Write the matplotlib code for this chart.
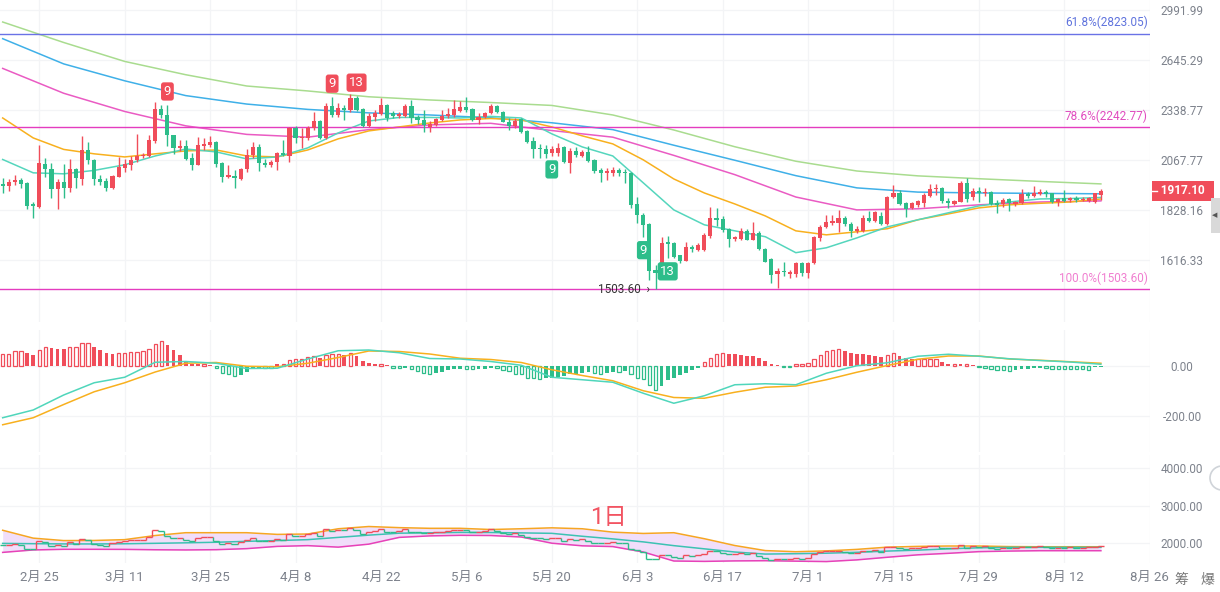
import numpy as np
import pandas as pd
import matplotlib
matplotlib.use("Agg")
import matplotlib.pyplot as plt
import matplotlib.dates as mdates
from matplotlib.collections import LineCollection
from matplotlib.patches import Rectangle, Ellipse
from matplotlib.transforms import blended_transform_factory

plt.rcParams['font.family'] = ['Roboto', 'Noto Sans CJK SC', 'DejaVu Sans']

# daily candles 2023-02-19 .. 2023-08-18
dates = pd.date_range('2023-02-19', '2023-08-18', freq='D')

open_ = [1949, 1941, 1959, 1968, 1954, 1855, 1842, 2048, 2022, 1925,
         1959, 1930, 2022, 1973, 2119, 2068, 1973, 1964, 1930, 1983,
         2027, 2043, 2068, 2088, 2088, 2167, 2345, 2310, 2199, 2130,
         2140, 2078, 2043, 2140, 2146, 2162, 2052, 1983, 1988, 1973,
         2022, 2093, 2135, 2052, 2043, 2058, 2104, 2088, 2237, 2183,
         2183, 2237, 2276, 2183, 2362, 2310, 2350, 2339, 2409, 2345,
         2248, 2299, 2316, 2368, 2322, 2305, 2305, 2362, 2299, 2282,
         2243, 2254, 2282, 2305, 2310, 2333, 2356, 2345, 2282, 2299,
         2322, 2362, 2327, 2271, 2248, 2288, 2221, 2167, 2130, 2124,
         2104, 2104, 2135, 2052, 2114, 2088, 2109, 2068, 2017, 2003,
         2003, 2017, 2008, 2003, 1855, 1806, 1766, 1577, 1565, 1690,
         1686, 1636, 1612, 1669, 1657, 1657, 1715, 1793, 1788, 1745,
         1702, 1702, 1736, 1698, 1728, 1661, 1620, 1562, 1573, 1562,
         1562, 1604, 1565, 1604, 1706, 1753, 1771, 1771, 1793, 1766,
         1736, 1736, 1793, 1780, 1802, 1766, 1888, 1906, 1860, 1837,
         1851, 1860, 1892, 1925, 1930, 1869, 1855, 1864, 1954, 1888,
         1916, 1906, 1911, 1860, 1855, 1878, 1855, 1860, 1901, 1892,
         1901, 1911, 1906, 1864, 1883, 1874, 1883, 1874, 1869, 1864,
         1897]
high = [1978, 1973, 1993, 1978, 1956, 1864, 2146, 2078, 2052, 1973,
        2048, 2073, 2027, 2194, 2162, 2070, 1993, 1978, 1990, 2083,
        2073, 2088, 2205, 2104, 2199, 2385, 2368, 2368, 2200, 2172,
        2172, 2104, 2188, 2183, 2194, 2167, 2055, 2043, 2018, 2027,
        2124, 2162, 2151, 2073, 2068, 2109, 2172, 2240, 2248, 2237,
        2248, 2327, 2282, 2379, 2414, 2379, 2368, 2432, 2420, 2350,
        2322, 2339, 2409, 2374, 2333, 2327, 2374, 2397, 2310, 2339,
        2276, 2293, 2339, 2350, 2397, 2391, 2414, 2350, 2322, 2327,
        2374, 2368, 2333, 2293, 2293, 2293, 2226, 2188, 2151, 2146,
        2140, 2156, 2140, 2130, 2135, 2119, 2140, 2070, 2027, 2027,
        2032, 2027, 2022, 2008, 1888, 1815, 1768, 1596, 1711, 1715,
        1690, 1637, 1690, 1677, 1686, 1728, 1842, 1837, 1802, 1749,
        1715, 1749, 1745, 1775, 1736, 1665, 1624, 1585, 1608, 1577,
        1608, 1608, 1608, 1715, 1762, 1806, 1806, 1828, 1802, 1775,
        1757, 1806, 1824, 1824, 1819, 1890, 1944, 1920, 1864, 1864,
        1874, 1906, 1949, 1949, 1935, 1883, 1874, 1964, 1978, 1930,
        1935, 1930, 1913, 1874, 1883, 1883, 1869, 1925, 1911, 1940,
        1925, 1920, 1908, 1883, 1920, 1888, 1892, 1888, 1888, 1908,
        1925]
low = [1906, 1916, 1944, 1930, 1833, 1792, 1837, 1983, 1883, 1833,
       1883, 1911, 1930, 1944, 2048, 1944, 1944, 1916, 1925, 1983,
       2008, 2018, 2058, 2078, 2085, 2156, 2293, 2140, 2099, 2114,
       2068, 2018, 2040, 2119, 2135, 2032, 1959, 1978, 1930, 1968,
       2008, 2078, 2012, 2032, 2032, 2018, 2088, 2058, 2156, 2130,
       2172, 2226, 2178, 2178, 2299, 2299, 2282, 2327, 2333, 2243,
       2245, 2276, 2310, 2276, 2293, 2293, 2299, 2265, 2259, 2215,
       2215, 2248, 2276, 2293, 2299, 2327, 2327, 2276, 2259, 2293,
       2316, 2322, 2268, 2226, 2237, 2210, 2156, 2078, 2078, 2078,
       2088, 2088, 2052, 2003, 2083, 2083, 2058, 2003, 1959, 1968,
       1988, 1988, 1954, 1837, 1771, 1711, 1539, 1503.6, 1563, 1624,
       1624, 1604, 1610, 1648, 1652, 1652, 1706, 1757, 1732, 1669,
       1694, 1698, 1696, 1696, 1657, 1606, 1527, 1508, 1554, 1546,
       1550, 1554, 1546, 1600, 1694, 1749, 1762, 1732, 1757, 1711,
       1728, 1732, 1775, 1775, 1762, 1762, 1883, 1851, 1797, 1833,
       1842, 1842, 1888, 1897, 1860, 1837, 1851, 1862, 1864, 1874,
       1864, 1892, 1851, 1815, 1842, 1824, 1846, 1855, 1883, 1888,
       1897, 1888, 1860, 1846, 1864, 1864, 1864, 1869, 1864, 1860,
       1874]
close = [1940, 1960, 1968, 1949, 1846, 1846, 2052, 2022, 1925, 1959,
         1930, 2022, 1978, 2119, 2068, 1973, 1959, 1930, 1988, 2032,
         2048, 2068, 2088, 2093, 2172, 2345, 2310, 2199, 2130, 2140,
         2073, 2043, 2146, 2151, 2162, 2048, 1983, 1993, 1978, 2022,
         2093, 2135, 2052, 2043, 2058, 2104, 2093, 2237, 2183, 2188,
         2237, 2276, 2183, 2362, 2310, 2350, 2339, 2409, 2339, 2248,
         2305, 2322, 2368, 2293, 2305, 2316, 2362, 2293, 2282, 2254,
         2259, 2288, 2305, 2316, 2345, 2356, 2339, 2282, 2299, 2322,
         2362, 2327, 2271, 2248, 2276, 2216, 2162, 2124, 2124, 2099,
         2124, 2130, 2058, 2114, 2093, 2109, 2063, 2012, 2003, 2012,
         2017, 2003, 2003, 1851, 1806, 1762, 1573, 1565, 1686, 1681,
         1628, 1612, 1669, 1661, 1677, 1719, 1793, 1784, 1740, 1702,
         1711, 1736, 1698, 1728, 1661, 1608, 1558, 1573, 1569, 1569,
         1604, 1565, 1604, 1711, 1753, 1775, 1780, 1793, 1766, 1736,
         1745, 1793, 1780, 1819, 1766, 1888, 1906, 1855, 1833, 1860,
         1869, 1897, 1925, 1930, 1869, 1860, 1869, 1954, 1878, 1916,
         1906, 1911, 1855, 1851, 1874, 1860, 1864, 1901, 1892, 1906,
         1911, 1901, 1864, 1878, 1869, 1883, 1874, 1878, 1883, 1906,
         1917.1]

# moving averages, read every 5 / 10 days
ma_fast = [2070, 2003, 1998, 2015, 2043, 2088, 2124, 2109, 2073, 2083, 2130, 2210, 2276,
           2296, 2296, 2293, 2302, 2293, 2205, 2135, 2088, 1954, 1828, 1762, 1736, 1711,
           1645, 1665, 1706, 1753, 1784, 1815, 1846, 1864, 1878, 1880, 1885]
ma_mid = [2293, 2183, 2122, 2099, 2083, 2099, 2114, 2119, 2088, 2083, 2119, 2178, 2221,
          2243, 2265, 2282, 2290, 2282, 2243, 2194, 2151, 2068, 1973, 1906, 1855, 1801,
          1736, 1719, 1732, 1745, 1784, 1810, 1837, 1851, 1858, 1864, 1878]
ma_50 = [2591, 2437, 2330, 2249, 2202, 2187, 2228, 2254, 2263, 2223, 2187, 2091, 1994,
         1887, 1828, 1833, 1851, 1864, 1869]
ma_100 = [2788, 2620, 2513, 2423, 2373, 2342, 2322, 2310, 2294, 2266, 2228, 2144, 2066,
          1989, 1930, 1910, 1906, 1904, 1902]
ma_200 = [2905, 2762, 2636, 2551, 2481, 2451, 2416, 2397, 2382, 2365, 2310, 2226, 2136,
          2061, 2012, 1988, 1974, 1961, 1949]

fib_levels = [2823.05, 2242.77, 1503.60]
fib_labels = ['61.8%(2823.05)', '78.6%(2242.77)', '100.0%(1503.60)']

# TD sequential marks: (candle index, text, side)
td_marks = [(27, '9', 'sell'), (54, '9', 'sell'), (58, '13', 'sell'),
            (90, '9', 'buy'), (105, '9', 'buy'), (109, '13', 'buy')]

macd_hist = [47, 49, 59, 61, 51, 43, 65, 77, 71, 69, 67, 75, 75, 91, 91, 75, 63, 51, 47, 52,
             53, 55, 57, 60, 67, 89, 99, 83, 63, 43, 21, 9, 8, 8, 5, -8, -27, -33, -39, -36,
             -24, -9, -7, -8, -8, 7, 7, 25, 29, 29, 36, 41, 32, 45, 48, 48, 45, 51, 39, 19,
             11, 7, 7, 3, -7, -9, -8, -11, -21, -28, -31, -27, -24, -17, -12, -11, -12, -13, -12, -11,
             -8, -8, -17, -21, -31, -34, -47, -50, -53, -50, -47, -43, -39, -34, -31,
             -30, -26, -30, -31, -27, -23, -23, -21, -34, -47, -53, -77, -97, -79, -57,
             -47, -37, -27, -17, -7, 14, 33, 49, 51, 49, 46, 43, 41, 38, 30,
             19, 6, 3, -5, -5, 6, 9, 11, 27, 43, 59, 63, 67, 59, 50,
             47, 46, 43, 41, 37, 43, 50, 41, 30, 27, 27, 27, 27, 27, 14,
             7, 7, 6, 6, 5, -6, -7, -13, -17, -17, -21, -17, -14, -13, -10,
             -9, -10, -13, -13, -14, -14, -14, -14, -15, -6, -5]
macd_dif = [-208, -177, -117, -68, -46, 14, 17, 10, -11, -10, 27, 60, 63, 52, 29, 27, 17, 2,
            -46, -56, -66, -110, -150, -120, -76, -72, -76, -30, 0, 12, 38, 46, 38, 28, 21, 15, 6]
macd_dea = [-236, -208, -155, -104, -68, -25, 10, 13, -2, -4, 10, 33, 59, 57, 47, 30, 25, 13,
            -16, -39, -60, -100, -127, -130, -106, -86, -81, -56, -26, 1, 26, 39, 39, 27, 22, 16, 10]

# lower pane band (every 5 days)
band_up = [2340, 2130, 2065, 2068, 2090, 2200, 2275, 2275, 2275, 2230, 2240, 2380, 2440,
           2410, 2392, 2392, 2360, 2380, 2405, 2380, 2290, 2255, 2275, 2115, 1933, 1798,
           1768, 1790, 1830, 1890, 1910, 1920, 1920, 1905, 1901, 1901, 1901]
band_mid = [1990, 1982, 1976, 1975, 1980, 1992, 2005, 2020, 2045, 2065, 2090, 2150, 2210,
            2262, 2272, 2282, 2280, 2270, 2258, 2180, 2110, 2030, 1930, 1845, 1760, 1705,
            1715, 1728, 1752, 1785, 1810, 1845, 1872, 1885, 1885, 1885, 1885]
band_low = [1750, 1815, 1832, 1832, 1830, 1820, 1815, 1822, 1850, 1910, 1930, 1890, 1970,
            2150, 2190, 2205, 2200, 2160, 1995, 1925, 1905, 1760, 1520, 1510, 1523, 1528,
            1516, 1505, 1550, 1620, 1685, 1725, 1770, 1785, 1795, 1795, 1795]

tick_dates = pd.date_range('2023-02-25', periods=14, freq='14D')
tick_labels = ['2月 25', '3月 11', '3月 25', '4月 8', '4月 22', '5月 6', '5月 20',
               '6月 3', '6月 17', '7月 1', '7月 15', '7月 29', '8月 12', '8月 26']
price_ticks = [2991.99, 2645.29, 2338.77, 2067.77, 1828.16, 1616.33]
macd_ticks = [0, -200]
band_ticks = [4000, 3000, 2000]

RED = '#f04d5a'
GREEN = '#2dbd8a'
GRID = '#f3f4f6'
LABEL = '#7d828c'

W, H = 1220, 592
fig = plt.figure(figsize=(W / 100, H / 100), dpi=100)
fig.patch.set_facecolor('white')


def pane(top, bottom):
    return fig.add_axes([0, 1 - bottom / H, 1150 / W, (bottom - top) / H])


ax = pane(0, 322)
axm = pane(330, 452)
axb = pane(455, 563)

xs = mdates.date2num(dates)
tx = mdates.date2num(tick_dates)
x0 = mdates.date2num(pd.Timestamp('2023-02-25'))

o = np.array(open_, float)
h = np.array(high, float)
l = np.array(low, float)
c = np.array(close, float)
col = np.where(c >= o, RED, GREEN)

for a in (ax, axm, axb):
    a.set_xlim(x0 - 6.44, x0 + 182.05)
    for s in a.spines.values():
        s.set_visible(False)
    a.set_xticks(tx)
    a.grid(True, color=GRID, lw=0.9)
    a.set_axisbelow(True)
    a.yaxis.tick_right()
    a.tick_params(axis='both', length=0, labelsize=8.5, labelcolor=LABEL)
    a.tick_params(axis='y', pad=23)
    a.tick_params(axis='x', labelbottom=False)

# ---- main price pane
ax.set_yscale('log')
ax.set_ylim(1386.6, 3067)
ax.set_yticks(price_ticks)
ax.set_yticklabels([f'{v:.2f}' for v in price_ticks])
ax.minorticks_off()

ax.plot(xs[::10], ma_200, color='#a9dc8f', lw=1.1)
ax.plot(xs[::10], ma_100, color='#3fb0e8', lw=1.1)
ax.plot(xs[::10], ma_50, color='#ea5bc3', lw=1.1)
ax.plot(xs[::5], ma_mid, color='#f8b01e', lw=1.1)
ax.plot(xs[::5], ma_fast, color='#55d6bd', lw=1.1)

ax.vlines(xs, l, h, colors=col, lw=1, zorder=3)
body_lo = np.minimum(o, c)
body_hi = np.maximum(np.maximum(o, c), body_lo * 1.0025)
ax.bar(xs, body_hi - body_lo, bottom=body_lo, width=0.68, color=col, lw=0, zorder=3)

trans = blended_transform_factory(ax.transAxes, ax.transData)
fib_colors = ['#6a72e6', '#e43cbf', '#e43cbf']
fib_text_colors = ['#5f73dd', '#e04cbf', '#f07fd0']
for lev, lab, lc, tc in zip(fib_levels, fib_labels, fib_colors, fib_text_colors):
    ax.axhline(lev, color=lc, lw=1, zorder=2)
    ax.annotate(lab, (0.998, lev), xycoords=trans, xytext=(0, 3), textcoords='offset points',
                ha='right', va='bottom', fontsize=8.5, color=tc)

for k, lab, side in td_marks:
    if side == 'sell':
        xy, off, va, fc = (xs[k], h[k]), (0, 5), 'bottom', RED
    else:
        xy, off, va, fc = (xs[k], l[k]), (0, -5), 'top', GREEN
    ax.annotate(lab, xy, xytext=off, textcoords='offset points', ha='center', va=va,
                fontsize=9.5, color='white', zorder=6,
                bbox=dict(boxstyle='round,pad=0.2', fc=fc, ec='none'))

k_low = int(np.argmin(l))
ax.annotate('1503.60  ›', (xs[k_low], l[k_low]), xytext=(-4, 0), textcoords='offset points',
            ha='right', va='center', fontsize=8.5, color='#333333', zorder=6)

# last price tag on the axis
ax.annotate('  1917.10  ', (1183 / 1150, c[-1]), xycoords=trans, ha='center', va='center',
            color='white', fontsize=8.5, fontweight='bold', annotation_clip=False, zorder=10,
            bbox=dict(boxstyle='square,pad=0.3', fc=RED, ec='none'))
ax.plot([1151 / 1150, 1157 / 1150], [c[-1], c[-1]], transform=trans, color='white',
        lw=1, clip_on=False, zorder=11)

# ---- MACD pane
axm.set_ylim(-345, 143)
axm.set_yticks(macd_ticks)
axm.set_yticklabels([f'{v:.2f}' for v in macd_ticks])
hv = np.array(macd_hist, float)
hcol = np.where(hv >= 0, RED, GREEN)
grow = np.abs(hv) >= np.abs(np.r_[0, hv[:-1]])
axm.bar(xs[~grow], hv[~grow], width=0.62, color=hcol[~grow], lw=0)
axm.bar(xs[grow], hv[grow], width=0.55, facecolor='white', edgecolor=hcol[grow], lw=0.9)
axm.plot(xs[::5], macd_dea, color='#f8b01e', lw=1.1)
axm.plot(xs[::5], macd_dif, color='#4fd6bb', lw=1.1)

# ---- lower pane
axb.set_ylim(1467, 4347)
axb.set_yticks(band_ticks)
axb.set_yticklabels([f'{v:.2f}' for v in band_ticks])
axb.fill_between(xs[::5], band_low, band_up, color='#f1defa', lw=0)
axb.plot(xs[::5], band_up, color='#f6a623', lw=1.1)
axb.plot(xs[::5], band_low, color='#e742b8', lw=1.1)
axb.plot(xs[::5], band_mid, color='#3cc2b3', lw=1.1)
segs, scol = [], []
prev = c[0]
for xi, ci, cc in zip(xs, c, col):
    segs.append([(xi - 0.5, prev), (xi - 0.5, ci)])
    segs.append([(xi - 0.5, ci), (xi + 0.5, ci)])
    scol += [cc, cc]
    prev = ci
axb.add_collection(LineCollection(segs, colors=scol, lw=1))
axb.tick_params(axis='x', labelbottom=True, pad=6, labelsize=9.5)
axb.set_xticklabels(tick_labels)
for a in (ax, axm, axb):
    for t in a.get_yticklabels():
        t.set_ha('center')

fig.text(608 / W, 1 - 517 / H, '1日', fontsize=17, color='#f25462', ha='center', va='center')
fig.text(1181 / W, 1 - 580 / H, '筹', fontsize=10, color='#777777', ha='center', va='center')
fig.text(1207 / W, 1 - 580 / H, '爆', fontsize=10, color='#777777', ha='center', va='center')

# right edge widgets
fig.patches.append(Rectangle((1211 / W, 1 - 233 / H), 9 / W, 35 / H, transform=fig.transFigure,
                             fc='#d9d9d9', ec='none'))
fig.text(1215 / W, 1 - 215 / H, '◀', fontsize=5, color='#555555', ha='center', va='center',
         family=['DejaVu Sans'])
fig.patches.append(Ellipse((1222 / W, 1 - 478 / H), 24 / W, 24 / H, transform=fig.transFigure,
                           fc='white', ec='#cfd3d8', lw=1.2))

fig.savefig('out.png', dpi=100)
